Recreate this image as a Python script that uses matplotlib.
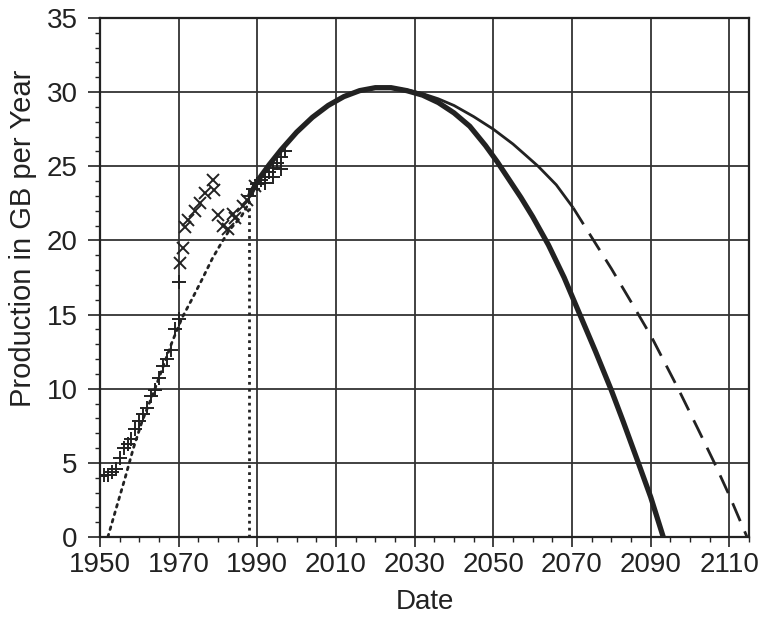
import matplotlib
matplotlib.use("Agg")
import matplotlib.pyplot as plt
from matplotlib.ticker import MultipleLocator

plt.rcParams['font.family'] = ['Liberation Sans', 'DejaVu Sans']

# Historical production, '+' markers
plus_years = [1950, 1951, 1952, 1953, 1954, 1955, 1956, 1957, 1958, 1959, 1960,
              1961, 1962, 1963, 1964, 1965, 1966, 1967, 1968, 1969, 1970, 1970,
              1988, 1989, 1990, 1991, 1992, 1993, 1994, 1995, 1996, 1997,
              1992, 1994, 1996]
plus_vals = [4.1, 4.2, 4.2, 4.4, 4.6, 5.3, 6.0, 6.3, 6.6, 7.3, 7.8,
             8.3, 8.7, 9.5, 9.9, 10.7, 11.5, 12.0, 12.6, 14.0, 14.7, 17.2,
             23.0, 23.5, 23.8, 24.1, 24.3, 24.6, 24.9, 25.2, 25.6, 26.0,
             23.9, 24.3, 24.8]

# Historical production, 'x' markers
cross_years = [1970.4, 1971.1, 1971.6, 1972.4, 1974.2, 1975.4, 1976.7, 1978.8,
               1979.0, 1980.0, 1981.3, 1982.6, 1983.8, 1984.4, 1986.4, 1987.4, 1989.4]
cross_vals = [18.5, 19.5, 20.9, 21.4, 22.0, 22.5, 23.2, 24.1,
              23.4, 21.7, 21.0, 20.8, 21.8, 21.5, 22.3, 22.7, 23.7]

# Dotted fitted rise
rise_years = [1952, 1954.3, 1956.4, 1958.5, 1960.7, 1963.7, 1966.2, 1968.4,
              1970.9, 1973.5, 1976, 1978.6, 1980.8, 1982.9, 1985.9, 1988]
rise_vals = [0.0, 2.1, 4.0, 6.0, 7.8, 9.8, 11.6, 13.2,
             14.8, 16.1, 17.4, 18.8, 19.8, 20.7, 21.6, 22.6]

# Dotted vertical marker
vline_year = 1988
vline_top = 22.6

# Thick solid forecast
thick_years = [1988, 1990, 1993, 1996, 2000, 2004, 2008, 2012, 2016, 2020, 2024,
               2028, 2032, 2036, 2040, 2044, 2048, 2051, 2054, 2057, 2060, 2064,
               2068, 2072, 2076, 2080, 2083, 2087, 2090, 2093.2]
thick_vals = [23.0, 24.0, 25.1, 26.1, 27.3, 28.3, 29.1, 29.7, 30.1, 30.3, 30.3,
              30.1, 29.8, 29.3, 28.6, 27.7, 26.4, 25.3, 24.1, 22.9, 21.6, 19.7,
              17.5, 15.0, 12.5, 9.9, 7.8, 4.9, 2.7, 0.0]

# Thin solid forecast
thin_years = [2024, 2028, 2032, 2036, 2040, 2045, 2050, 2055, 2058, 2061.4, 2066, 2070.3]
thin_vals = [30.3, 30.15, 29.9, 29.55, 29.1, 28.35, 27.5, 26.5, 25.8, 25.0, 23.75, 22.2]

# Dashed continuation
dash_years = [2070.3, 2075.5, 2080, 2084.7, 2090.2, 2097, 2102, 2106.2, 2110, 2114.5]
dash_vals = [22.2, 20.0, 18.1, 16.0, 13.5, 10.0, 7.3, 5.0, 2.8, 0.0]

x_ticks = [1950, 1970, 1990, 2010, 2030, 2050, 2070, 2090, 2110]
y_ticks = [0, 5, 10, 15, 20, 25, 30, 35]

ink = '#222222'

fig = plt.figure(figsize=(7.65, 6.23), dpi=100)
ax = fig.add_axes([100/765, 1-537/623, 649/765, 519/623])

ax.set_xlim(1950, 2115)
ax.set_ylim(0, 35)
ax.set_xticks(x_ticks)
ax.set_yticks(y_ticks)
ax.xaxis.set_minor_locator(MultipleLocator(5))
ax.yaxis.set_minor_locator(MultipleLocator(1))
ax.grid(True, which='major', color='#333333', lw=1.3)
ax.set_axisbelow(True)

ax.tick_params(axis='both', which='major', direction='out', width=1.2,
               labelsize=20, colors=ink)
ax.tick_params(axis='x', which='major', length=7, pad=4)
ax.tick_params(axis='y', which='major', length=9, pad=7)
ax.tick_params(axis='both', which='minor', direction='out', length=3.5, width=1.0, colors=ink)
for s in ax.spines.values():
    s.set_color(ink)
    s.set_linewidth(1.6)

ax.plot(rise_years, rise_vals, color=ink, lw=2.0, ls=(0, (1, 1.8)), dash_capstyle='round')
ax.plot([vline_year, vline_year], [0, vline_top], color=ink, lw=2.0, ls=(0, (1, 1.5)))

ax.plot(plus_years, plus_vals, ls='none', marker='+', ms=10, mew=1.4, color=ink)
ax.plot(cross_years, cross_vals, ls='none', marker='x', ms=9, mew=1.4, color=ink)

ax.plot(thin_years, thin_vals, color=ink, lw=2.0, solid_capstyle='butt', solid_joinstyle='round')
ax.plot(dash_years, dash_vals, color=ink, lw=2.0, ls=(0, (7, 4)))
ax.plot(thick_years, thick_vals, color=ink, lw=3.8, solid_capstyle='butt', solid_joinstyle='round')

ax.set_xlabel('Date', fontsize=20, color=ink, labelpad=8)
ax.set_ylabel('Production in GB per Year', fontsize=21, color=ink)
ax.yaxis.set_label_coords((37 - 100) / 649, (537 - 238) / 519)

fig.savefig('out.png', dpi=100, facecolor='white')
